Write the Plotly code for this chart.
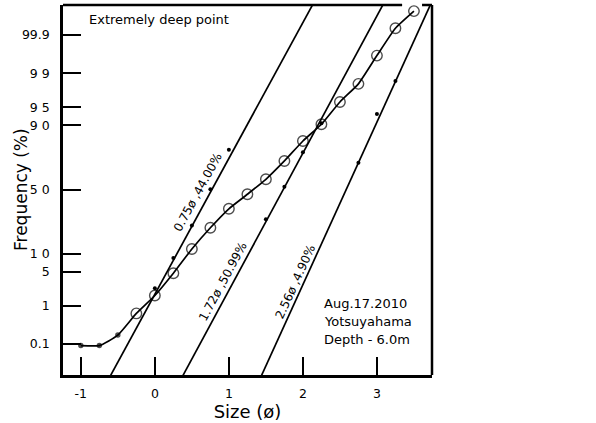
from statistics import NormalDist
import plotly.graph_objects as go

ND = NormalDist()

def z(p_percent):
    return ND.inv_cdf(p_percent / 100.0)

# ---- data -------------------------------------------------------------
# measured cumulative frequency curve (phi, cumulative %)
size_phi = [-1.0, -0.75, -0.5, -0.25, 0.0, 0.25, 0.5, 0.75, 1.0, 1.25, 1.5,
            1.75, 2.0, 2.25, 2.5, 2.75, 3.0, 3.25, 3.5]
freq_pct = [0.09, 0.09, 0.18, 0.66, 1.7, 4.7, 11.7, 22.2, 35.0, 46.2, 58.1,
            71.6, 83.4, 90.4, 96.0, 98.27, 99.63, 99.937, 99.982]
circle_from = 3  # first 3 points drawn as small dots

# component populations: plotted sample points
comp1_phi = [0.0, 0.25, 0.5, 0.75, 1.0]
comp1_pct = [2.4, 8.5, 23.5, 50.2, 78.7]
comp2_phi = [1.5, 1.75, 2.0, 2.25]
comp2_pct = [27.6, 52.2, 77.2, 90.7]
comp3_phi = [2.75, 3.0, 3.25]
comp3_pct = [70.4, 93.45, 98.5]

# fitted straight lines: phi at 0.01 % and 99.99 %
line_pct = [0.01, 99.99]
comp_line_phi = [[-0.598, 2.140], [0.380, 3.090], [1.441, 3.730]]
comp_labels = ["0.75ø ,44.00%", "1.72ø ,50.99%", "2.56ø ,4.90%"]

y_tick_pct = [0.1, 1, 5, 10, 50, 90, 95, 99, 99.9]
y_tick_text = ["0.1", "1", "5", "1 0", "5 0", "9 0", "9 5", "9 9", "99.9"]
x_tick_vals = [-1, 0, 1, 2, 3]

info_lines = ["Aug.17.2010", "Yotsuyahama", "Depth - 6.0m"]
title_text = "Extremely deep point"

# ---- figure -----------------------------------------------------------
FONT = "DejaVu Sans"
fig = go.Figure()

for xs in comp_line_phi:
    fig.add_trace(go.Scatter(x=xs, y=[z(p) for p in line_pct], mode="lines",
                             line=dict(color="black", width=1.7),
                             hoverinfo="skip", showlegend=False))

for xs, ps in [(comp1_phi, comp1_pct), (comp2_phi, comp2_pct), (comp3_phi, comp3_pct)]:
    fig.add_trace(go.Scatter(x=xs, y=[z(p) for p in ps], mode="markers",
                             marker=dict(color="black", size=4),
                             showlegend=False))

n = len(size_phi)
fig.add_trace(go.Scatter(
    x=size_phi, y=[z(p) for p in freq_pct], mode="lines+markers",
    line=dict(color="black", width=1.7, shape="spline", smoothing=0.5),
    marker=dict(
        symbol=["circle"] * circle_from + ["circle-open"] * (n - circle_from),
        size=[4] * circle_from + [10.5] * (n - circle_from),
        color="black", line=dict(color="black", width=1.4)),
    showlegend=False))

# label annotations along the fitted lines
label_pos = [(0.582, -0.05, -61.5), (0.913, -1.84, -61.7), (1.894, -1.84, -65.6)]
for txt, (lx, ly, ang) in zip(comp_labels, label_pos):
    fig.add_annotation(x=lx, y=ly, text=txt, textangle=ang, showarrow=False,
                       font=dict(family=FONT, size=12, color="black"))

fig.add_annotation(x=-0.917, y=3.41, text=title_text, showarrow=False,
                   xanchor="left", yanchor="middle",
                   font=dict(family=FONT, size=13, color="black"))
for i, t in enumerate(info_lines):
    fig.add_annotation(x=2.256, y=-2.28 - i * 0.36, text=t, showarrow=False,
                       xanchor="left", yanchor="middle",
                       font=dict(family=FONT, size=13, color="black"))

# y-axis title
fig.add_annotation(xref="paper", yref="paper", x=0, y=0.5, xshift=-42,
                   text="Frequency (%)", textangle=-90, showarrow=False,
                   xanchor="center", yanchor="middle",
                   font=dict(family=FONT, size=17, color="black"))

# frame top (with gap) and right side
fig.add_shape(type="line", xref="paper", yref="paper", x0=0, x1=0.919, y0=1, y1=1,
              line=dict(color="black", width=2.5))
fig.add_shape(type="line", xref="paper", yref="paper", x0=0.973, x1=1, y0=1, y1=1,
              line=dict(color="black", width=2.5))
fig.add_shape(type="line", xref="paper", yref="paper", x0=1, x1=1, y0=0, y1=1,
              line=dict(color="black", width=2.5))

fig.update_layout(
    width=596, height=423,
    margin=dict(l=63, r=164, t=5, b=48),
    paper_bgcolor="white", plot_bgcolor="white",
    font=dict(family=FONT, color="black"),
    xaxis=dict(range=[-1.241, 3.744], showgrid=False, zeroline=False,
               showline=True, linecolor="black", linewidth=2.5,
               ticks="inside", ticklen=18, tickwidth=2, tickcolor="black",
               tickvals=x_tick_vals, ticktext=[str(v) for v in x_tick_vals],
               tickfont=dict(family=FONT, size=12.5), ticklabelstandoff=5,
               title=dict(text="Size (ø)", font=dict(family=FONT, size=18), standoff=6)),
    yaxis=dict(range=[-3.71, 3.69], showgrid=False, zeroline=False,
               showline=True, linecolor="black", linewidth=2.5,
               ticks="inside", ticklen=18, tickwidth=2, tickcolor="black",
               tickvals=[z(p) for p in y_tick_pct], ticktext=y_tick_text,
               tickfont=dict(family=FONT, size=12.5), ticklabelstandoff=8),
)

fig.write_html("out.html")
